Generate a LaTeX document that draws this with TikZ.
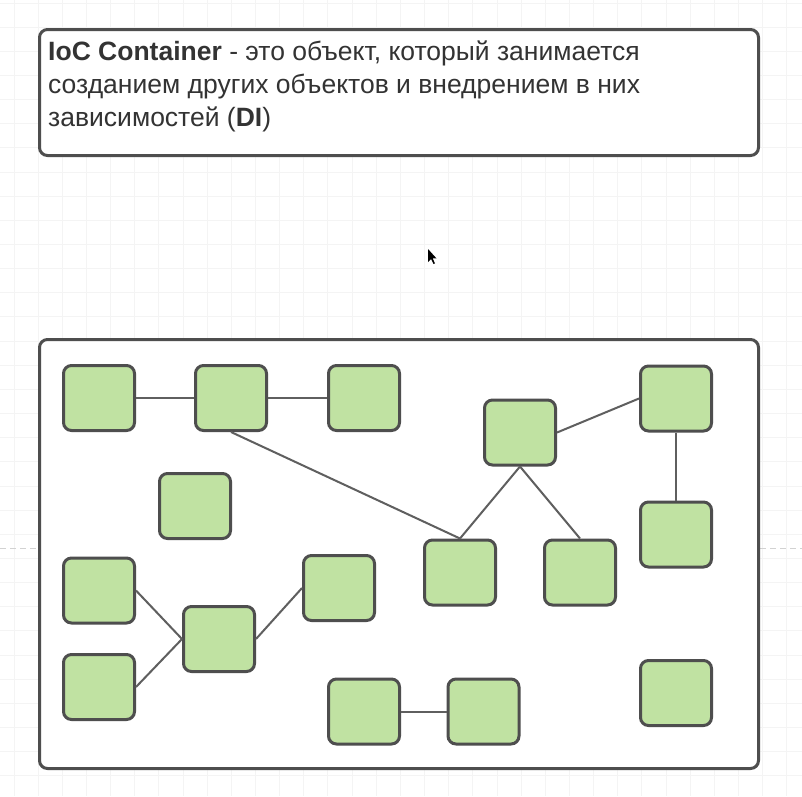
\documentclass[tikz,border=0pt]{standalone}
\usepackage{fontspec}
\setmainfont{Liberation Sans}
\definecolor{boxline}{RGB}{78,78,78}
\definecolor{edgeline}{RGB}{95,95,95}
\definecolor{greenfill}{RGB}{192,226,162}
\definecolor{gridline}{RGB}{244,244,244}
\definecolor{textgray}{RGB}{51,51,51}
\tikzset{
  sq/.style={draw=boxline, line width=3pt, fill=greenfill, rounded corners=8pt,
    minimum width=71pt, minimum height=65pt, inner sep=0pt},
  frame/.style={draw=boxline, line width=3pt, fill=white, rounded corners=8pt},
  link/.style={draw=edgeline, line width=2pt},
  txt/.style={anchor=base west, inner sep=0pt, text=textgray, font=\fontsize{26.5}{32}\selectfont}
}
\begin{document}
\begin{tikzpicture}[x=1pt,y=-1pt]
\useasboundingbox (0,0) rectangle (802,796);
\fill[white] (0,0) rectangle (802,796);
% grid
\foreach \i in {0,...,33} {
  \draw[gridline, line width=1pt] ({14+24.15*\i},0) -- ({14+24.15*\i},796);
  \draw[gridline, line width=1pt] (0,{3+24.15*\i}) -- (802,{3+24.15*\i});
}
% page break dashes
\draw[gray!35, line width=1pt, dash pattern=on 6pt off 4pt] (0,548) -- (38,548);
\draw[gray!35, line width=1pt, dash pattern=on 6pt off 4pt] (760,548) -- (802,548);
% title box
\path[frame] (39.5,29.5) rectangle (758.5,155.5);
\node[txt] (l1) at (48,60) {\textbf{IoC Container} - это объект, который занимается};
\node[txt] (l2) at (48,93) {созданием других объектов и внедрением в них};
\node[txt] (l3) at (48,126) {зависимостей (\textbf{DI})};
% cursor
\fill[black] (428,249) -- (428,262) -- (431,259) -- (433.5,264) -- (435,263.3) -- (432.6,258.4) -- (436.5,258.4) -- cycle;
% container
\path[frame] (39.5,339.5) rectangle (758.5,768.5);
% squares
\node[sq] (s1) at (99,398) {};
\node[sq] (s2) at (231,398) {};
\node[sq] (s3) at (364,398) {};
\node[sq] (s4) at (195,506) {};
\node[sq] (s5) at (520,432.5) {};
\node[sq] (s6) at (676,398.5) {};
\node[sq] (s7) at (676,534.5) {};
\node[sq] (s8) at (460,572.5) {};
\node[sq] (s9) at (580,572.5) {};
\node[sq] (s10) at (99,590.5) {};
\node[sq] (s11) at (99,687) {};
\node[sq] (s12) at (219,639) {};
\node[sq] (s13) at (339,588) {};
\node[sq] (s14) at (364,711.5) {};
\node[sq] (s15) at (483.5,711.5) {};
\node[sq] (s16) at (676,693) {};
% links
\draw[link] (s1.east) -- (s2.west);
\draw[link] (s2.east) -- (s3.west);
\draw[link] (s2.south) -- (s8.north);
\draw[link] (s5.south) -- (s8.north);
\draw[link] (s5.south) -- (s9.north);
\draw[link] (s5.east) -- (s6.west);
\draw[link] (s6.south) -- (s7.north);
\draw[link] (s10.east) -- (s12.west);
\draw[link] (s11.east) -- (s12.west);
\draw[link] (s12.east) -- (s13.west);
\draw[link] (s14.east) -- (s15.west);
\end{tikzpicture}
\end{document}
